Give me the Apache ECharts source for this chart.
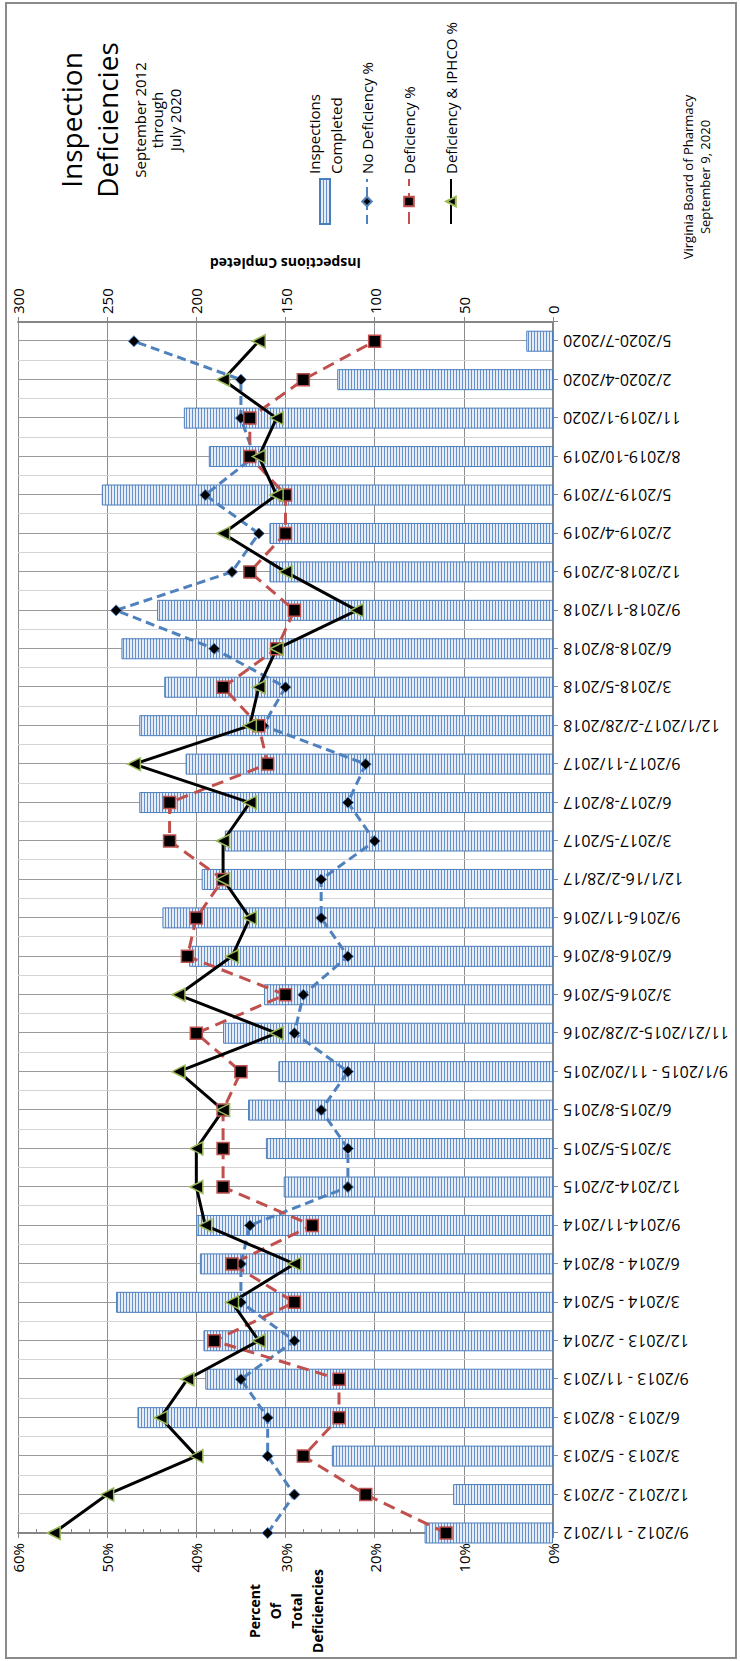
<!DOCTYPE html>
<html lang="en">
<head>
    <meta charset="UTF-8">
    <title>Inspection Deficiencies</title>
    <script src="https://cdn.jsdelivr.net/npm/echarts/dist/echarts.min.js"></script>
    <style>
        html, body {
            margin: 0;
            padding: 0;
            width: 740px;
            height: 1661px;
            overflow: hidden;
            background: #fff;
        }
        /* chart is laid out landscape, then turned a quarter to the left */
        #chart {
            position: absolute;
            left: 0;
            top: 0;
            width: 1661px;
            height: 740px;
            transform-origin: 0 0;
            transform: translateY(1661px) rotate(-90deg);
        }
    </style>
</head>
<body>
<div id="chart"></div>
<script>
    let categories = [
        '9/2012 - 11/2012', '12/2012 - 2/2013', '3/2013 - 5/2013', '6/2013 - 8/2013',
        '9/2013 - 11/2013', '12/2013 - 2/2014', '3/2014 - 5/2014', '6/2014 - 8/2014',
        '9/2014-11/2014', '12/2014-2/2015', '3/2015-5/2015', '6/2015-8/2015',
        '9/1/2015 - 11/20/2015', '11/21/2015-2/28/2016', '3/2016-5/2016', '6/2016-8/2016',
        '9/2016-11/2016', '12/1/16-2/28/17', '3/2017-5/2017', '6/2017-8/2017',
        '9/2017-11/2017', '12/1/2017-2/28/2018', '3/2018-5/2018', '6/2018-8/2018',
        '9/2018-11/2018', '12/2018-2/2019', '2/2019-4/2019', '5/2019-7/2019',
        '8/2019-10/2019', '11/2019-1/2020', '2/2020-4/2020', '5/2020-7/2020'
    ];
    let inspections = [72, 56, 124, 233, 195, 196, 245, 198, 200, 151, 161, 171, 154, 185, 162, 204,
        219, 197, 184, 232, 206, 232, 218, 242, 222, 159, 159, 253, 193, 207, 121, 15];
    let noDeficiency = [32, 29, 32, 32, 35, 29, 35, 35, 34, 23, 23, 26, 23, 29, 28, 23,
        26, 26, 20, 23, 21, 32.5, 30, 38, 49, 36, 33, 39, 33.5, 35, 35, 47];
    let deficiency = [12, 21, 28, 24, 24, 38, 29, 36, 27, 37, 37, 37, 35, 40, 30, 41,
        40, 37, 43, 43, 32, 33, 37, 31, 29, 34, 30, 30, 34, 34, 28, 20];
    let iphco = [56, 50, 40, 44, 41, 33, 36, 29, 39, 40, 40, 37, 42, 31, 42, 36,
        34, 37, 37, 34, 47, 34, 33, 31, 22, 30, 37, 31, 33, 31, 37, 33];
    let percentTicks = [0, 60, 10];
    let inspectionTicks = [0, 300, 50];

    // striped fill for the inspection bars
    let stripe = document.createElement('canvas');
    stripe.width = 4;
    stripe.height = 3;
    let ctx = stripe.getContext('2d');
    ctx.fillStyle = '#e6ecf6';
    ctx.fillRect(0, 0, 4, 3);
    ctx.fillStyle = '#6590cb';
    ctx.fillRect(0, 0, 4, 1);
    let barFill = {image: stripe, repeat: 'repeat', imageWidth: 4, imageHeight: 3};

    let toPoints = function (arr) {
        return arr.map(function (v, i) {
            return [i, v];
        });
    };

    let myChart = echarts.init(document.getElementById('chart'), null, {renderer: 'svg'});
    let option = {
        animation: false,
        backgroundColor: '#fff',
        textStyle: {fontFamily: 'Open Sans', color: '#000'},
        title: [{
            text: 'Inspection\nDeficiencies',
            subtext: 'September 2012\nthrough\nJuly 2020',
            left: 1536,
            top: 48,
            textAlign: 'center',
            itemGap: 6,
            textStyle: {fontSize: 28, fontWeight: 'normal', lineHeight: 36, color: '#000'},
            subtextStyle: {fontSize: 15, lineHeight: 17.5, color: '#000'}
        }, {
            text: 'Virginia Board of Pharmacy\nSeptember 9, 2020',
            left: 1479,
            top: 674,
            textAlign: 'center',
            textStyle: {fontSize: 13, fontWeight: 'normal', lineHeight: 17, color: '#000'}
        }],
        legend: [{
            data: ['Inspections Completed'],
            orient: 'vertical',
            left: 1436,
            top: 292,
            padding: 0,
            icon: 'rect',
            itemWidth: 45,
            itemHeight: 10,
            formatter: function () {
                return 'Inspections\nCompleted';
            },
            textStyle: {fontSize: 15, lineHeight: 22, padding: [22, 0, 0, 0], color: '#000'}
        }, {
            data: ['No Deficiency %', 'Deficiency %', 'Deficiency & IPHCO %'],
            orient: 'vertical',
            left: 1436,
            top: 357,
            padding: 0,
            itemGap: 22,
            itemWidth: 45,
            itemHeight: 12,
            textStyle: {fontSize: 15, lineHeight: 20, color: '#000'}
        }],
        graphic: [{
            type: 'rect',
            silent: true,
            z: -10,
            shape: {x: 3, y: 6, width: 1655, height: 730},
            style: {fill: 'none', stroke: '#8a8a8a', lineWidth: 2}
        }],
        grid: {left: 128, right: 322, top: 18, bottom: 187, containLabel: false, outerBoundsMode: 'none'},
        xAxis: [{
            type: 'value',
            position: 'bottom',
            min: 0,
            max: categories.length - 0.5,
            interval: 0.5,
            axisLine: {onZero: false, lineStyle: {color: '#868686', width: 2}},
            axisTick: {show: false},
            axisLabel: {
                rotate: 90,
                margin: 10,
                fontSize: 16,
                color: '#000',
                showMaxLabel: false,
                formatter: function (v) {
                    return Number.isInteger(v) && categories[v] ? categories[v] : '';
                }
            },
            splitLine: {show: true, lineStyle: {color: ['#9a9a9a', '#d4d4d4'], width: 1}}
        }, {
            type: 'value',
            position: 'bottom',
            min: 0,
            max: categories.length - 0.5,
            interval: 1,
            axisLine: {show: false, onZero: false},
            axisTick: {show: true, length: 5, lineStyle: {color: '#868686'}},
            axisLabel: {show: false},
            splitLine: {show: false}
        }],
        yAxis: [{
            type: 'value',
            position: 'left',
            min: percentTicks[0],
            max: percentTicks[1],
            interval: percentTicks[2],
            axisLine: {show: true, onZero: false, lineStyle: {color: '#868686', width: 2}},
            axisTick: {show: true, length: 5, lineStyle: {color: '#868686'}},
            axisLabel: {formatter: '{value}%', fontSize: 15, color: '#000', margin: 10},
            splitLine: {show: true, lineStyle: {color: '#8c8c8c', width: 1}},
            name: '{c|Percent}\n{c|Of}\n{c|Total}\n{c|Deficiencies}',
            nameLocation: 'middle',
            nameRotate: 0,
            nameGap: 30,
            nameMoveOverlap: false,
            nameTextStyle: {
                rich: {
                    c: {width: 96, align: 'center', fontSize: 14, fontWeight: 'bold', lineHeight: 21, color: '#000'}
                }
            }
        }, {
            type: 'value',
            position: 'right',
            min: inspectionTicks[0],
            max: inspectionTicks[1],
            interval: inspectionTicks[2],
            axisLine: {show: true, onZero: false, lineStyle: {color: '#868686', width: 2}},
            axisTick: {show: true, length: 5, lineStyle: {color: '#868686'}},
            axisLabel: {fontSize: 15, color: '#000', margin: 8},
            splitLine: {show: false},
            name: 'Inspections Cmpleted',
            nameLocation: 'middle',
            nameRotate: 90,
            nameGap: 52,
            nameMoveOverlap: false,
            nameTextStyle: {fontSize: 14, fontWeight: 'bold', color: '#000'}
        }, {
            // minor ticks inside the percent axis
            type: 'value',
            position: 'left',
            min: percentTicks[0],
            max: percentTicks[1],
            interval: 2,
            axisLine: {show: false, onZero: false},
            axisTick: {show: true, inside: true, length: 4, lineStyle: {color: '#868686'}},
            axisLabel: {show: false},
            splitLine: {show: false}
        }],
        series: [{
            name: 'Inspections Completed',
            type: 'bar',
            xAxisIndex: 0,
            yAxisIndex: 1,
            barWidth: 21,
            clip: true,
            itemStyle: {color: barFill, borderColor: '#4a7ebb', borderWidth: 1},
            data: toPoints(inspections)
        }, {
            name: 'No Deficiency %',
            type: 'line',
            yAxisIndex: 0,
            symbol: 'diamond',
            symbolSize: 11,
            clip: false,
            lineStyle: {color: '#4f81bd', width: 3, type: [9, 5]},
            itemStyle: {color: '#000', borderColor: '#4f81bd', borderWidth: 1},
            data: toPoints(noDeficiency)
        }, {
            name: 'Deficiency %',
            type: 'line',
            yAxisIndex: 0,
            symbol: 'rect',
            symbolSize: 12,
            clip: false,
            lineStyle: {color: '#c0504d', width: 3, type: [12, 7]},
            itemStyle: {color: '#000', borderColor: '#c0504d', borderWidth: 1.5},
            data: toPoints(deficiency)
        }, {
            name: 'Deficiency & IPHCO %',
            type: 'line',
            yAxisIndex: 0,
            symbol: 'triangle',
            symbolSize: 13,
            clip: false,
            lineStyle: {color: '#000', width: 3},
            itemStyle: {color: '#000', borderColor: '#9bbb59', borderWidth: 1.5},
            data: toPoints(iphco)
        }]
    };
    myChart.setOption(option);
</script>
</body>
</html>
